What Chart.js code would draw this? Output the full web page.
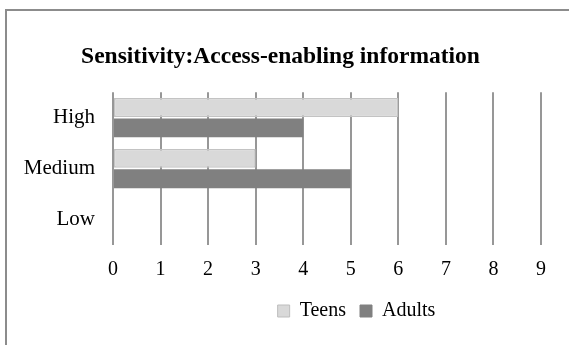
<!DOCTYPE html>
<html>
<head>
<meta charset="utf-8">
<script src="https://cdn.jsdelivr.net/npm/chart.js@4"></script>
<style>
  html, body { margin: 0; padding: 0; background: #fff; overflow: hidden; }
  #wrap { position: relative; width: 569px; height: 345px; overflow: hidden; }
  #frame { position: absolute; left: 5px; top: 9px; width: 620px; height: 400px; border: 2px solid #8c8c8c; box-sizing: border-box; }
  #chart { position: absolute; left: 0; top: 0; }
</style>
</head>
<body>
<div id="wrap">
  <div id="frame"></div>
  <canvas id="chart" width="569" height="345"></canvas>
</div>
<script>
const categories = ['High', 'Medium', 'Low'];
const teens = [6, 3, 0];
const adults = [4, 5, 0];
const xTicks = [0, 1, 2, 3, 4, 5, 6, 7, 8, 9];

const FONT = "'Liberation Serif', 'Times New Roman', serif";

// Nudge the title and legend boxes after layout so they sit where the
// frame puts them (title centred on the frame, legend under the plot's right side)
const boxShift = {
  id: 'boxShift',
  afterLayout(chart) {
    const move = (box, dx, dy) => {
      if (!box) return;
      box.left += dx; box.right += dx;
      box.top += dy; box.bottom += dy;
    };
    move(chart.titleBlock, 10, 0);
    move(chart.legend, 86, -8);
  }
};

new Chart(document.getElementById('chart'), {
  type: 'bar',
  data: {
    labels: categories,
    datasets: [
      {
        label: 'Teens',
        data: teens,
        backgroundColor: '#d9d9d9',
        borderColor: '#c3c3c3',
        borderWidth: 1.5,
        borderSkipped: false,
        categoryPercentage: 0.8,
        barPercentage: 0.925
      },
      {
        label: 'Adults',
        data: adults,
        backgroundColor: '#808080',
        borderColor: '#808080',
        borderWidth: 0,
        categoryPercentage: 0.8,
        barPercentage: 0.925
      }
    ]
  },
  options: {
    indexAxis: 'y',
    responsive: false,
    animation: false,
    layout: { padding: { left: 0, right: 28, top: 10, bottom: 6 } },
    plugins: {
      title: {
        display: true,
        text: 'Sensitivity:Access-enabling information',
        color: '#000',
        font: { family: FONT, size: 23.5, weight: 'bold' },
        padding: { top: 33, bottom: 21 }
      },
      legend: {
        position: 'bottom',
        labels: {
          color: '#000',
          font: { family: FONT, size: 20 },
          boxWidth: 12,
          boxHeight: 12,
          padding: 14,
          generateLabels(chart) {
            return chart.data.datasets.map((ds, i) => ({
              text: ds.label,
              fillStyle: ds.backgroundColor,
              strokeStyle: i === 0 ? '#bdbdbd' : ds.backgroundColor,
              lineWidth: 1,
              datasetIndex: i,
              fontColor: '#000'
            }));
          }
        }
      },
      tooltip: { enabled: false }
    },
    scales: {
      x: {
        min: 0,
        max: 9,
        afterBuildTicks(scale) {
          scale.ticks = xTicks.map(v => ({ value: v }));
        },
        grid: { color: '#979797', lineWidth: 2, drawTicks: false },
        border: { display: false },
        ticks: {
          color: '#000',
          font: { family: FONT, size: 20 },
          padding: 13,
          maxRotation: 0
        }
      },
      y: {
        grid: { display: false, drawTicks: false },
        border: { display: false },
        ticks: {
          color: '#000',
          font: { family: FONT, size: 21 },
          padding: 18
        },
        afterFit(scale) { scale.width = 113; }
      }
    }
  },
  plugins: [boxShift]
});
</script>
</body>
</html>
